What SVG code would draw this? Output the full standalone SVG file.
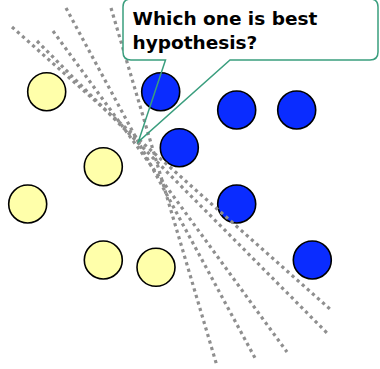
<svg xmlns="http://www.w3.org/2000/svg" width="380" height="369" viewBox="0 0 380 369">
<style>
.pos{fill:#ffffaa;stroke:#000;stroke-width:1.6}
.neg{fill:#0a2cff;stroke:#000;stroke-width:1.6}
.hyp{stroke:#8f8f8f;stroke-width:3.2;stroke-dasharray:3.2 3.6;fill:none}
.call{fill:none;stroke:#3a9e7e;stroke-width:1.5}
.lbl{font-family:"DejaVu Sans",sans-serif;font-weight:bold;font-size:18.5px;fill:#000}
</style>
<rect width="380" height="369" fill="#fff"/>
<g id="pos1"><circle class="pos" cx="46.7" cy="91.7" r="19"/></g>
<g id="pos2"><circle class="pos" cx="103.3" cy="166.7" r="19"/></g>
<g id="pos3"><circle class="pos" cx="27.7" cy="204" r="19"/></g>
<g id="pos4"><circle class="pos" cx="103.3" cy="260" r="19"/></g>
<g id="pos5"><circle class="pos" cx="156" cy="267.3" r="19"/></g>
<g id="neg1"><circle class="neg" cx="160.7" cy="91.7" r="19"/></g>
<g id="neg2"><circle class="neg" cx="236.7" cy="110" r="19"/></g>
<g id="neg3"><circle class="neg" cx="296.7" cy="110" r="19"/></g>
<g id="neg4"><circle class="neg" cx="179.3" cy="147.7" r="19"/></g>
<g id="neg5"><circle class="neg" cx="236.7" cy="204" r="19"/></g>
<g id="neg6"><circle class="neg" cx="312.3" cy="260" r="19"/></g>
<g id="connectors">
<line class="hyp" x1="12" y1="27" x2="331" y2="310"/>
<line class="hyp" x1="37" y1="41" x2="328" y2="334"/>
<line class="hyp" x1="53" y1="31" x2="287" y2="352"/>
<line class="hyp" x1="66" y1="8" x2="255" y2="358"/>
<line class="hyp" x1="111" y1="8" x2="217" y2="366"/>
</g>
<g id="callout">
<rect x="123" y="-1" width="255" height="61" rx="8" fill="#fff"/>
<path class="call" d="M131,-1 H370 Q378,-1 378,7 V52 Q378,60 370,60 H230 L138.3,141.7 L165.5,60 H131 Q123,60 123,52 V7 Q123,-1 131,-1 Z"/>
<text class="lbl" x="132.5" y="25">Which one is best</text>
<text class="lbl" x="132.5" y="49">hypothesis?</text>
</g>
</svg>
